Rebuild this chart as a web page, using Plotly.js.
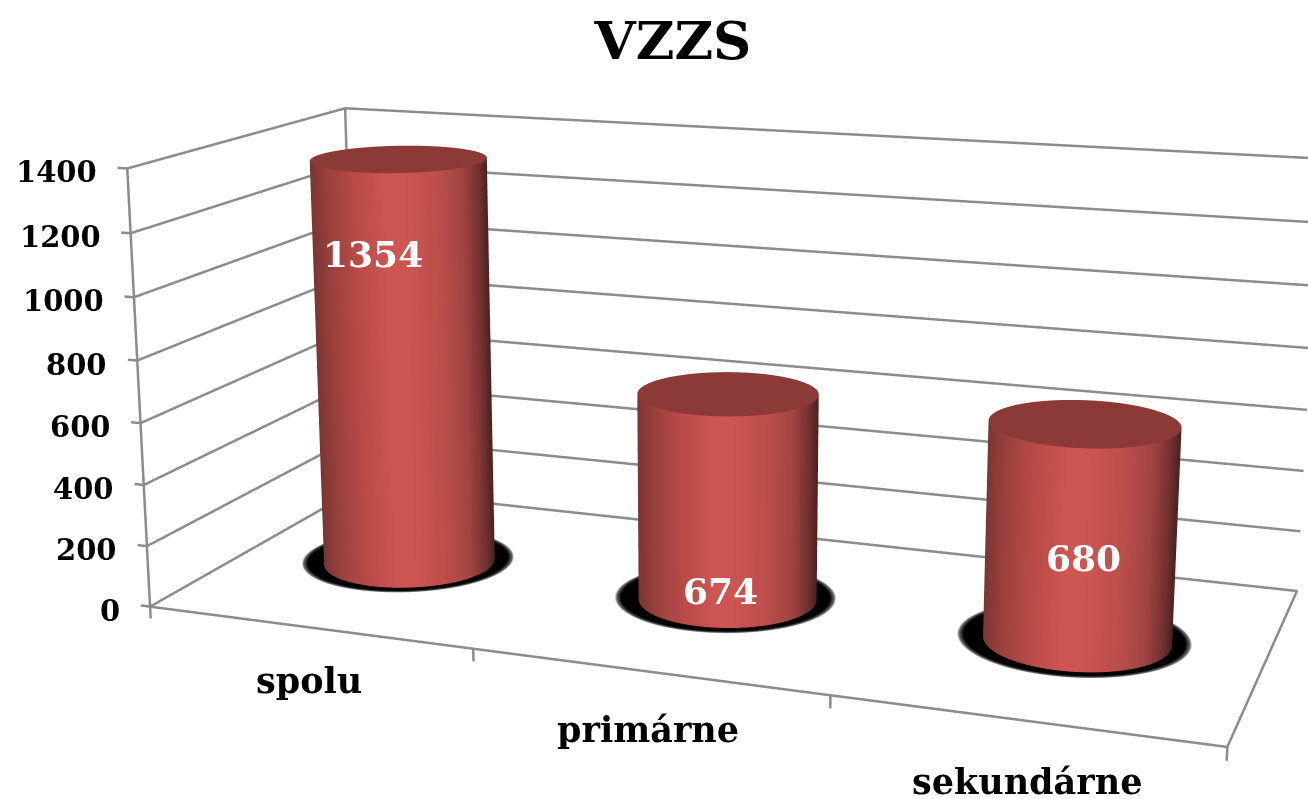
<!DOCTYPE html><html><head><meta charset="utf-8"><script src="https://cdn.plot.ly/plotly-3.0.1.min.js"></script></head><body style="margin:0;background:#fff;overflow:hidden;width:1308px;height:799px">
<div id="g" style="position:absolute;left:-10px;top:-718px;width:1367px;height:2136px"></div>
<script>
const titleText='VZZS';
const categories=['spolu','primárne','sekundárne'];
const values=[1354,674,680];
const tickVals=[0,200,400,600,800,1000,1200,1400];
const labelHeights=[1094,115,347];
const labelShifts=[13,24,23];
const catShifts=[-53,-58,-61];
const catXShifts=[1,1,3];
const FONT='"DejaVu Serif",serif';
const LW=1367,LH=2136,OFFX=-10,OFFY=-718;
const X_MAX=categories.length,Z_MAX=tickVals[tickVals.length-1];
const xr=[-0.03,X_MAX+0.02],yr=[-0.02,1.02],zr=[-40,Z_MAX+12];
const baseAspect={x:1,y:0.4172,z:0.4149};
const sX=baseAspect.x/X_MAX,sY=baseAspect.y,sZ=baseAspect.z/Z_MAX;
const aspect={x:sX*(xr[1]-xr[0]),y:sY*(yr[1]-yr[0]),z:sZ*(zr[1]-zr[0])};
const dX=(X_MAX/2-(xr[0]+xr[1])/2)*sX,dY=(0.5-(yr[0]+yr[1])/2)*sY,dZ=(Z_MAX/2-(zr[0]+zr[1])/2)*sZ;
const eye={x:0.7741+dX,y:-2.1820+dY,z:0.5782+dZ},center={x:-0.0981+dX,y:0.1168+dY,z:0+dZ},up={x:-0.0226,y:0.0682,z:1};
const RX=0.252,RY=0.2,GREY='#8c8c8c',LINE=5;
const N=96;
const thetas=Array.from({length:N+1},(_,i)=>i/N*2*Math.PI);
const bodyScale=[[0,'#7a3533'],[.1,'#9a403d'],[.25,'#b84a47'],[.42,'#cd5552'],[.52,'#cd5552'],[.7,'#bd4f4c'],[.85,'#a04442'],[.95,'#6e302e'],[1,'#4a2020']];
const capScale=[[0,'#8c3a38'],[1,'#8c3a38']];
const shadowScale=[[0,'#000'],[.94,'#000'],[.98,'#666'],[1,'#fff']];
const noLight={ambient:1,diffuse:0,specular:0,roughness:1,fresnel:0};
const traces=[];
function grid(fn,rows){const o={x:[],y:[],z:[],c:[]};rows.forEach(r=>{const a={x:[],y:[],z:[],c:[]};thetas.forEach(t=>{const p=fn(r,t);a.x.push(p[0]);a.y.push(p[1]);a.z.push(p[2]);a.c.push(p[3]);});o.x.push(a.x);o.y.push(a.y);o.z.push(a.z);o.c.push(a.c);});return o;}
function surf(g,scale){return {type:'surface',x:g.x,y:g.y,z:g.z,surfacecolor:g.c,colorscale:scale,cmin:-1,cmax:1,showscale:false,lighting:noLight,hoverinfo:'skip'};}
values.forEach((v,i)=>{const cx=i+.5,cy=.5;
 const wx=sX*(cx-X_MAX/2);
 const ex=0.7741-wx, ey=-2.1820, L=Math.hypot(ex,ey), rx=-ey/L, ry=ex/L;
 traces.push(surf(grid((r,t)=>[cx-.012+RX*1.25*r*Math.cos(t),cy+.012+RY*1.25*r*Math.sin(t),1,r*2-1],[0,.5,.94,.98,1]),shadowScale));
 traces.push(surf(grid((r,t)=>{const nx=Math.cos(t),ny=Math.sin(t);return [cx+RX*nx,cy+RY*ny,r*v,nx*rx+ny*ry];},[0,1]),bodyScale));
 traces.push(surf(grid((r,t)=>[cx+RX*r*Math.cos(t),cy+RY*r*Math.sin(t),v,0],[0,1]),capScale));
});
const gx=[],gy=[],gz=[];
tickVals.forEach(v=>{gx.push(xr[0],0,0,X_MAX,null);gy.push(0,0,1,1,null);gz.push(v,v,v,v,null);});
for(let i=0;i<=X_MAX;i++){gx.push(i,i,null);gy.push(0,0,null);gz.push(0,zr[0],null);}
gx.push(0,X_MAX,X_MAX,0,0,0,0);gy.push(0,0,1,1,0,0,1);gz.push(0,0,0,0,0,Z_MAX,Z_MAX);gx.push(null,0,0);gy.push(null,1,1);gz.push(null,0,Z_MAX);
traces.push({type:'scatter3d',mode:'lines',x:gx,y:gy,z:gz,line:{color:GREY,width:LINE},hoverinfo:'skip'});
const ann=[];
const base={showarrow:false};
tickVals.forEach(v=>ann.push({...base,x:0,y:0,z:v,text:String(v),xanchor:'right',xshift:-28,yshift:-4,font:{family:FONT,weight:700,size:29,color:'#000'}}));
categories.forEach((c,i)=>ann.push({...base,x:i+.5,y:0,z:0,text:c,xshift:catXShifts[i],yshift:catShifts[i],font:{family:FONT,weight:700,size:35,color:'#000'}}));
values.forEach((v,i)=>ann.push({...base,x:i+.5,y:.5-RY,z:labelHeights[i],text:String(v),xshift:labelShifts[i],font:{family:FONT,weight:700,size:36,color:'#fff'}}));
const off={showgrid:false,zeroline:false,showspikes:false,showbackground:false,showticklabels:false,ticks:'',title:{text:''}};
Plotly.newPlot('g',traces,{width:LW,height:LH,margin:{l:0,r:0,t:0,b:0},showlegend:false,paper_bgcolor:'#fff',
 title:{text:titleText,font:{family:FONT,weight:700,size:53,color:'#000'},xref:'container',yref:'container',x:(673-OFFX)/LW,xanchor:'center',y:1-(40-OFFY)/LH,yanchor:'middle'},
 scene:{domain:{x:[0,1],y:[0,1]},aspectmode:'manual',aspectratio:aspect,annotations:ann,
  camera:{eye,center,up,projection:{type:'perspective'}},
  xaxis:{...off,range:xr,tickmode:'array',tickvals:[0,1,2,3]},
  yaxis:{...off,range:yr},
  zaxis:{...off,range:zr,tickmode:'array',tickvals:tickVals}}},{displayModeBar:false});
</script></body></html>
